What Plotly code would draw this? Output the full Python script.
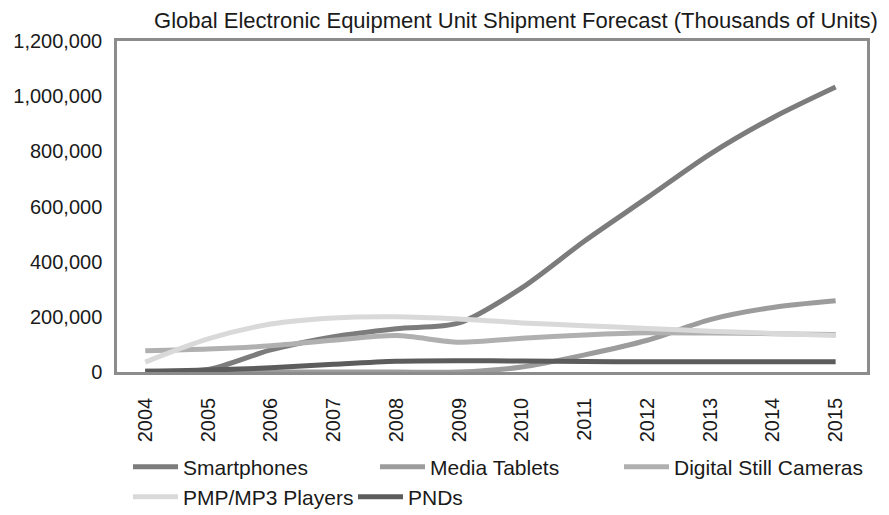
import plotly.graph_objects as go

years = [str(y) for y in range(2004, 2016)]
smartphones = [4000, 9000, 80000, 128000, 157000, 178000, 305000, 475000, 632000, 790000, 922000, 1033000]
media_tablets = [0, 0, 0, 0, 0, 0, 18000, 62000, 115000, 190000, 234000, 258000]
digital_cameras = [77000, 83000, 95000, 115000, 132000, 108000, 122000, 134000, 142000, 141000, 139000, 136000]
pmp_players = [36000, 120000, 174000, 196000, 200000, 192000, 178000, 168000, 158000, 148000, 140000, 132000]
pnds = [2000, 7000, 15000, 28000, 39000, 41000, 40000, 38000, 37000, 37000, 37000, 37000]

series = [
    ("Smartphones", smartphones, "#7c7c7c", "legend"),
    ("Media Tablets", media_tablets, "#9c9c9c", "legend"),
    ("Digital Still Cameras", digital_cameras, "#b0b0b0", "legend3"),
    ("PMP/MP3 Players", pmp_players, "#d9d9d9", "legend2"),
    ("PNDs", pnds, "#5c5c5c", "legend2"),
]

font_family = "Liberation Sans, Arial, sans-serif"

fig = go.Figure()
for name, vals, color, leg in series:
    fig.add_trace(go.Scatter(
        x=years, y=vals, name=name, mode="lines",
        line=dict(color=color, width=5, shape="spline", smoothing=0.8),
        legend=leg,
    ))

legend_common = dict(
    orientation="h",
    xref="container", yref="container",
    xanchor="left", yanchor="middle",
    font=dict(family=font_family, size=21, color="#1a1a1a"),
    itemwidth=45,
    bgcolor="rgba(0,0,0,0)",
    traceorder="normal",
)

fig.update_layout(
    width=889, height=515,
    margin=dict(l=117, r=22, t=41, b=143),
    paper_bgcolor="white", plot_bgcolor="white",
    font=dict(family=font_family, size=20, color="#1a1a1a"),
    title=dict(
        text="Global Electronic Equipment Unit Shipment Forecast (Thousands of Units)",
        xref="container", yref="container",
        x=516 / 889, y=1 - 20 / 515, xanchor="center", yanchor="middle",
        font=dict(family=font_family, size=22, color="#1a1a1a"),
    ),
    legend=dict(x=128 / 889, y=1 - 467 / 515, entrywidth=187, **legend_common),
    legend3=dict(x=619 / 889, y=1 - 467 / 515, **legend_common),
    legend2=dict(x=128 / 889, y=1 - 497 / 515, entrywidth=165, **legend_common),
    showlegend=True,
)

fig.update_xaxes(
    type="category", range=[-0.45, 11.5], automargin=False,
    tickangle=-90, ticks="", ticklabelstandoff=15,
    showgrid=False, zeroline=False,
    showline=True, linecolor="#8c8c8c", linewidth=2.5, mirror=True,
    tickfont=dict(family=font_family, size=20, color="#1a1a1a"),
)
fig.update_yaxes(
    range=[0, 1200000], dtick=200000, tickformat=",", automargin=False,
    ticks="", ticklabelstandoff=8,
    showgrid=False, zeroline=False,
    showline=True, linecolor="#8c8c8c", linewidth=2.5, mirror=True,
    tickfont=dict(family=font_family, size=20, color="#1a1a1a"),
)

fig.write_html("out.html")
